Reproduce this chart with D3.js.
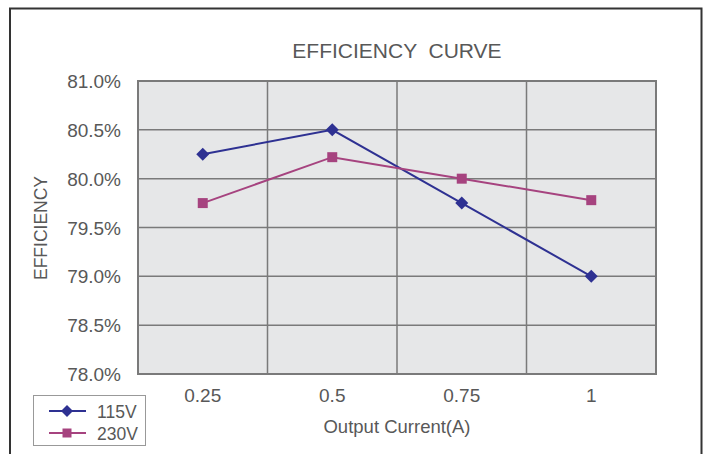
<!DOCTYPE html>
<html><head><meta charset="utf-8">
<script src="https://cdn.jsdelivr.net/npm/d3@7"></script>
<style>body{margin:0;background:#fff}svg{display:block;font-family:"Liberation Sans",Arial,sans-serif}</style>
</head><body><svg id="c" width="709" height="454"></svg>
<script>
const categories = ["0.25","0.5","0.75","1"];
const yTicks = [78.0,78.5,79.0,79.5,80.0,80.5,81.0];
const series115 = [80.25,80.5,79.75,79.0];
const series230 = [79.75,80.22,80.0,79.78];
const seriesNames = ["115V","230V"];

const svg = d3.select("#c");
const m = {l:138,r:656,t:81,b:374};
const x = d3.scaleBand().domain(categories).range([m.l,m.r]);
const y = d3.scaleLinear().domain([78,81]).range([m.b,m.t]);
const txt = "#585858";
const grid = "#7a7a7a";

// outer frame
svg.append("path").attr("d","M10,460 V8.5 H701.5 V460").attr("fill","none").attr("stroke","#333").attr("stroke-width",2);

svg.append("rect").attr("x",m.l).attr("y",m.t).attr("width",m.r-m.l).attr("height",m.b-m.t).attr("fill","#e6e7e8");

svg.append("g").selectAll("line").data(yTicks.slice(1,-1)).join("line")
  .attr("x1",m.l).attr("x2",m.r).attr("y1",d=>y(d)).attr("y2",d=>y(d))
  .attr("stroke",grid).attr("stroke-width",1.5);
svg.append("g").selectAll("line").data(categories.slice(1)).join("line")
  .attr("x1",d=>x(d)).attr("x2",d=>x(d)).attr("y1",m.t).attr("y2",m.b)
  .attr("stroke",grid).attr("stroke-width",1.5);
svg.append("rect").attr("x",m.l).attr("y",m.t).attr("width",m.r-m.l).attr("height",m.b-m.t)
  .attr("fill","none").attr("stroke",grid).attr("stroke-width",2);

svg.append("g").selectAll("text").data(yTicks).join("text")
  .attr("x",121).attr("y",d=>y(d)+7).attr("text-anchor","end")
  .attr("font-size",19).attr("fill",txt).text(d=>d.toFixed(1)+"%");
svg.append("g").selectAll("text").data(categories).join("text")
  .attr("x",d=>x(d)+x.bandwidth()/2).attr("y",402).attr("text-anchor","middle")
  .attr("font-size",19).attr("fill",txt).text(d=>d);

svg.append("text").attr("x",397).attr("y",57.5).attr("text-anchor","middle").attr("font-size",21).attr("fill",txt)
  .attr("xml:space","preserve").text("EFFICIENCY  CURVE");
svg.append("text").attr("x",397).attr("y",433).attr("text-anchor","middle").attr("font-size",18.5).attr("fill",txt).text("Output Current(A)");
svg.append("text").attr("transform","translate(47,228) rotate(-90)").attr("text-anchor","middle").attr("font-size",17.5).attr("fill",txt).text("EFFICIENCY");

const cx = d=>x(d)+x.bandwidth()/2;
const colors = ["#2e3192","#a6437f"];
const data = [series115, series230];
const diamond = s=>`M0,${-s}L${s},0L0,${s}L${-s},0Z`;
const square = s=>`M${-s},${-s}H${s}V${s}H${-s}Z`;
const line = d3.line().x((v,i)=>cx(categories[i])).y(v=>y(v));
data.forEach((s,k)=>{
  svg.append("path").datum(s).attr("d",line).attr("fill","none").attr("stroke",colors[k]).attr("stroke-width",2);
  svg.append("g").selectAll("path").data(s).join("path")
    .attr("transform",(v,i)=>`translate(${cx(categories[i])},${y(v)})`)
    .attr("d", k===0 ? diamond(6.5) : square(5))
    .attr("fill",colors[k]);
});

svg.append("rect").attr("x",33.5).attr("y",395.5).attr("width",112).attr("height",50).attr("fill","#fff").attr("stroke","#999").attr("stroke-width",1);
seriesNames.forEach((n,k)=>{
  const ly = 411 + k*22;
  svg.append("line").attr("x1",49).attr("x2",86).attr("y1",ly).attr("y2",ly).attr("stroke",colors[k]).attr("stroke-width",2);
  svg.append("path").attr("transform",`translate(67,${ly})`)
    .attr("d", k===0 ? diamond(6) : square(4.5)).attr("fill",colors[k]);
  svg.append("text").attr("x",97).attr("y",ly+6.5).attr("font-size",17.5).attr("fill",txt).text(n);
});
</script></body></html>
